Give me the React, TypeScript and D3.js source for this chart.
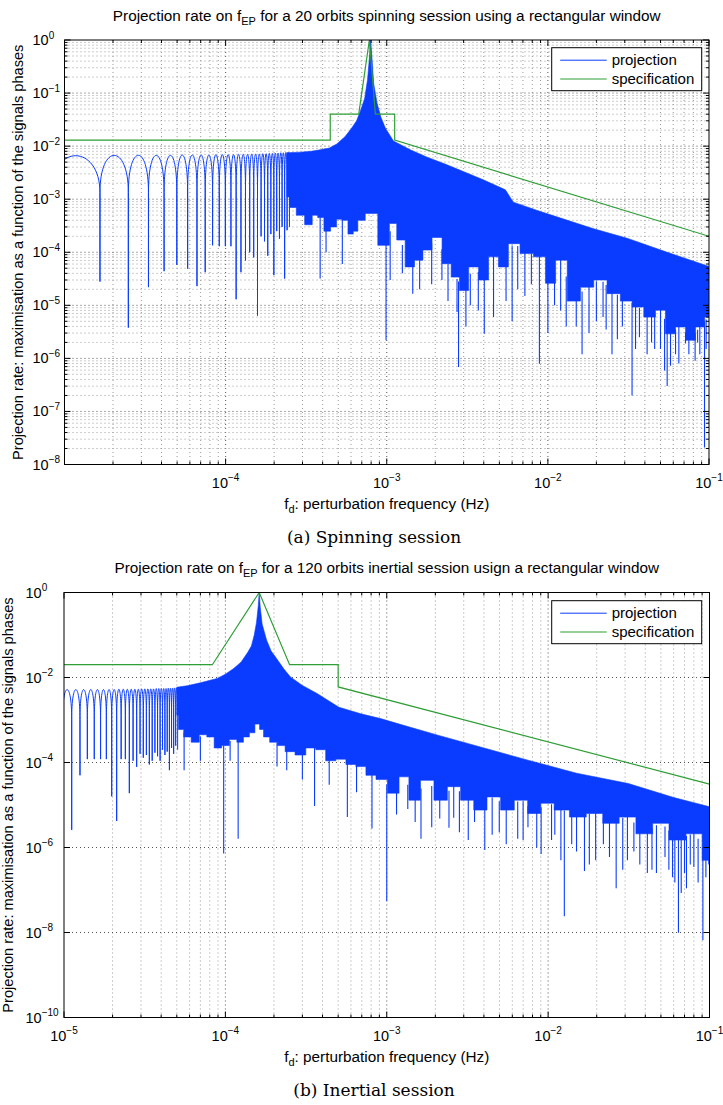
import React from 'react';
import * as d3 from 'd3';

// ---------- spinning session (20 orbits) ----------
// individual sinc lobes at low frequency: dip frequencies, dip depths, lobe tops
const spinDipF = [8.3e-6, 1.66e-5, 2.49e-5, 3.32e-5, 4.15e-5, 4.98e-5, 5.81e-5, 6.64e-5, 7.47e-5, 8.3e-5, 9.13e-5, 9.96e-5, 1.079e-4, 1.162e-4, 1.245e-4, 1.328e-4, 1.411e-4, 1.494e-4, 1.577e-4, 1.66e-4, 1.743e-4, 1.826e-4, 1.909e-4, 1.992e-4, 2.075e-4, 2.158e-4, 2.241e-4, 2.324e-4, 2.407e-4, 2.49e-4];
const spinDipV = [3e-5, 2.8e-5, 3.8e-6, 2.2e-5, 4.4e-5, 5.8e-5, 4.9e-5, 2.3e-5, 4.2e-5, 1.35e-4, 1.3e-4, 1.3e-4, 1.3e-4, 1.3e-5, 4.2e-5, 7e-5, 1e-4, 8e-5, 6.4e-6, 2e-4, 1.6e-4, 8.6e-5, 2.2e-4, 3.7e-5, 2.5e-4, 1.8e-4, 3e-4, 3.2e-5, 2.6e-4, 3e-4];
const spinLobeTop = [6.6e-3, 6.7e-3, 6.7e-3, 6.7e-3, 6.7e-3, 6.8e-3, 6.8e-3, 6.8e-3, 6.8e-3, 6.9e-3, 6.9e-3, 6.9e-3, 6.9e-3, 7.0e-3, 7.0e-3, 7.0e-3, 7.1e-3, 7.1e-3, 7.1e-3, 7.2e-3, 7.2e-3, 7.3e-3, 7.3e-3, 7.4e-3, 7.4e-3, 7.5e-3, 7.5e-3, 7.6e-3, 7.6e-3];
// dense part: upper envelope and ragged floor
const spinEnvF = [2.4e-4, 2.9e-4, 3.4e-4, 3.86e-4, 4.4e-4, 4.9e-4, 5.5e-4, 6.0e-4, 6.5e-4, 6.9e-4, 7.3e-4, 7.6e-4, 7.8e-4, 7.95e-4, 8.1e-4, 8.3e-4, 8.7e-4, 9.2e-4, 9.8e-4, 1.1e-3, 1.4e-3, 1.78e-3, 2.3e-3, 2.86e-3, 4e-3, 5.45e-3, 6.1e-3, 8.5e-3, 1.2e-2, 1.9e-2, 3.1e-2, 5.5e-2, 0.1];
const spinEnvV = [7.5e-3, 7.7e-3, 8.0e-3, 8.5e-3, 9.2e-3, 1.1e-2, 1.5e-2, 2.1e-2, 3.0e-2, 4.8e-2, 8e-2, 0.18, 0.45, 1.0, 0.45, 0.15, 0.065, 0.035, 0.022, 0.0125, 8.5e-3, 6.2e-3, 4.6e-3, 3.5e-3, 2.3e-3, 1.5e-3, 8.8e-4, 6.2e-4, 4.4e-4, 2.8e-4, 1.84e-4, 1.0e-4, 5.4e-5];
const spinFloorF = [2.4e-4, 2.6e-4, 2.9e-4, 3.3e-4, 3.6e-4, 3.86e-4, 4.3e-4, 4.67e-4, 5.1e-4, 5.5e-4, 6e-4, 6.4e-4, 6.84e-4, 7.9e-4, 9.8e-4, 1.1e-3, 1.21e-3, 1.4e-3, 1.58e-3, 1.78e-3, 2.05e-3, 2.37e-3, 2.66e-3, 3.0e-3, 3.46e-3, 3.99e-3, 4.6e-3, 5.3e-3, 6.1e-3, 7.4e-3, 8.98e-3, 1.04e-2, 1.2e-2, 1.45e-2, 1.75e-2, 2.12e-2, 2.56e-2, 3.1e-2, 3.58e-2, 4.33e-2, 5.0e-2, 5.77e-2, 6.65e-2, 7.7e-2, 8.85e-2, 0.1];
const spinFloorV = [1.1e-3, 7e-4, 5e-4, 3.3e-4, 5e-4, 4.5e-4, 2.5e-4, 3e-4, 4.2e-4, 4e-4, 2.2e-4, 2.5e-4, 4e-4, 5.4e-4, 1.35e-4, 3.5e-4, 1.7e-4, 5.3e-5, 7.1e-5, 1.1e-4, 1.9e-4, 6.1e-5, 3.4e-5, 1.9e-5, 5.3e-5, 3e-5, 8.2e-5, 5.3e-5, 1.45e-4, 9.5e-5, 8.2e-5, 2.6e-5, 7.1e-5, 1.2e-5, 2.2e-5, 3e-5, 1.66e-5, 1.2e-5, 9.3e-6, 6e-6, 8.1e-6, 2.9e-6, 3.9e-6, 2.2e-6, 3.9e-6, 6e-6];
// deep notches inside the dense part
const spinSpikeF = [3.86e-4, 4.2e-4, 5.3e-4, 9.9e-4, 1.05e-3, 1.25e-3, 1.45e-3, 1.6e-3, 1.9e-3, 2.2e-3, 2.4e-3, 2.73e-3, 2.79e-3, 3.1e-3, 3.3e-3, 3.7e-3, 4.03e-3, 4.6e-3, 5.5e-3, 6.0e-3, 6.5e-3, 7.2e-3, 7.9e-3, 8.86e-3, 1.0e-2, 1.1e-2, 1.2e-2, 1.3e-2, 1.5e-2, 1.63e-2, 1.8e-2, 2.0e-2, 2.2e-2, 2.3e-2, 2.5e-2, 2.7e-2, 2.9e-2, 3.33e-2, 3.5e-2, 3.7e-2, 4.13e-2, 4.4e-2, 4.6e-2, 5.0e-2, 5.3e-2, 5.5e-2, 5.77e-2, 6.2e-2, 6.5e-2, 7.15e-2, 7.5e-2, 8.2e-2, 8.5e-2, 8.77e-2, 9.38e-2, 9.6e-2, 9.9e-2];
const spinSpikeV = [3.2e-5, 1e-4, 6e-5, 2.2e-6, 3e-5, 4e-5, 1.66e-5, 2e-5, 2.5e-5, 3e-5, 1.2e-5, 7.5e-6, 6.9e-7, 4e-6, 1e-5, 8e-6, 2.9e-6, 6e-6, 1.2e-5, 5e-6, 2e-5, 1.5e-5, 2.5e-5, 7.9e-7, 3e-6, 1e-5, 8e-6, 4e-6, 4e-6, 1.2e-6, 3e-6, 5e-6, 6e-6, 3.5e-6, 1.2e-6, 2.3e-6, 4e-6, 2e-7, 1.5e-6, 2.5e-6, 1.2e-6, 2e-6, 1.5e-6, 1.5e-6, 5.9e-7, 3e-7, 7.3e-7, 1.2e-6, 8e-7, 1.9e-6, 1.2e-6, 9e-7, 2e-6, 1.2e-6, 2.1e-8, 1.5e-6, 6e-6];
const spinSpecF = [1e-5, 4.46e-4, 4.46e-4, 6.7e-4, 7.8e-4, 8.5e-4, 1.12e-3, 1.12e-3, 0.1];
const spinSpecV = [0.013, 0.013, 0.04, 0.04, 1, 0.04, 0.04, 0.013, 2e-4];

// ---------- inertial session (120 orbits) ----------
const inerDipF = [9.8e-6, 1.116e-5, 1.256e-5, 1.395e-5, 1.54e-5, 1.685e-5, 1.83e-5, 1.975e-5, 2.12e-5, 2.26e-5, 2.4e-5, 2.54e-5, 2.68e-5, 2.82e-5, 2.96e-5, 3.1e-5, 3.24e-5, 3.38e-5, 3.52e-5, 3.66e-5, 3.8e-5, 3.94e-5, 4.08e-5, 4.22e-5, 4.36e-5, 4.5e-5, 4.64e-5, 4.78e-5, 4.92e-5, 5.06e-5];
const inerDipV = [3e-5, 2.6e-6, 5e-5, 1.2e-4, 1.2e-4, 1.2e-4, 1.2e-4, 1.6e-5, 4.2e-6, 1.2e-4, 1.2e-4, 1.9e-5, 1.1e-4, 7.9e-5, 1.6e-4, 1.3e-4, 1.5e-4, 9e-5, 1.1e-4, 1.7e-4, 1.4e-4, 1.1e-4, 2e-4, 1.5e-4, 1.8e-4, 6.6e-5, 2.2e-4, 1.6e-4, 2.5e-4, 2e-4];
const inerLobeTop = [5.2e-3, 5.2e-3, 5.2e-3, 5.2e-3, 5.2e-3, 5.2e-3, 5.2e-3, 5.2e-3, 5.3e-3, 5.3e-3, 5.3e-3, 5.3e-3, 5.3e-3, 5.3e-3, 5.4e-3, 5.4e-3, 5.4e-3, 5.4e-3, 5.4e-3, 5.5e-3, 5.5e-3, 5.5e-3, 5.5e-3, 5.5e-3, 5.6e-3, 5.6e-3, 5.6e-3, 5.7e-3, 5.7e-3];
const inerEnvF = [5.0e-5, 5.8e-5, 7e-5, 8.9e-5, 1.0e-4, 1.12e-4, 1.25e-4, 1.37e-4, 1.45e-4, 1.51e-4, 1.56e-4, 1.6e-4, 1.62e-4, 1.645e-4, 1.69e-4, 1.8e-4, 1.92e-4, 2.05e-4, 2.3e-4, 2.53e-4, 3.0e-4, 3.7e-4, 5.05e-4, 6.9e-4, 9.15e-4, 1.3e-3, 2.07e-3, 4e-3, 7.4e-3, 1.5e-2, 3.14e-2, 6e-2, 0.1];
const inerEnvV = [5.9e-3, 6.4e-3, 7.5e-3, 9.5e-3, 1.2e-2, 1.6e-2, 2.3e-2, 3.8e-2, 5.5e-2, 0.1, 0.2, 0.5, 1.0, 0.45, 0.18, 0.076, 0.042, 0.03, 0.016, 0.0103, 6.5e-3, 4.2e-3, 2.0e-3, 1.4e-3, 1.08e-3, 7.3e-4, 4.4e-4, 2.2e-4, 1.15e-4, 5.6e-5, 3.2e-5, 1.5e-5, 9.1e-6];
const inerFloorF = [5.0e-5, 5.25e-5, 5.8e-5, 6.5e-5, 7.3e-5, 8.07e-5, 9e-5, 1.0e-4, 1.12e-4, 1.24e-4, 1.35e-4, 1.47e-4, 1.58e-4, 1.68e-4, 1.77e-4, 2.0e-4, 2.2e-4, 2.5e-4, 2.92e-4, 3.4e-4, 3.89e-4, 4.5e-4, 5.2e-4, 6e-4, 6.9e-4, 8e-4, 9.2e-4, 1.11e-3, 1.28e-3, 1.47e-3, 1.78e-3, 2.16e-3, 2.61e-3, 3.15e-3, 3.8e-3, 4.6e-3, 5.6e-3, 6.8e-3, 8.2e-3, 9.9e-3, 1.2e-2, 1.53e-2, 1.94e-2, 2.45e-2, 3.1e-2, 3.95e-2, 5.0e-2, 6.3e-2, 8.1e-2, 0.1];
const inerFloorV = [1.3e-3, 6e-4, 4e-4, 3e-4, 4.5e-4, 4e-4, 2.2e-4, 2.5e-4, 3.5e-4, 3e-4, 4e-4, 5e-4, 8e-4, 6e-4, 4e-4, 3e-4, 2.5e-4, 1.8e-4, 1.5e-4, 2.2e-4, 2e-4, 1.1e-4, 1.2e-4, 9e-5, 8e-5, 5e-5, 4e-5, 1.9e-5, 4.6e-5, 1.3e-5, 3.8e-5, 1.3e-5, 2.7e-5, 1.3e-5, 7.6e-6, 1.55e-5, 7.6e-6, 1.3e-5, 6.3e-6, 1.1e-5, 7.6e-6, 5.2e-6, 6.3e-6, 3.7e-6, 5.2e-6, 2.1e-6, 3.7e-6, 1.5e-6, 2.1e-6, 5e-7];
const inerSpikeF = [5.55e-5, 7.0e-5, 9.76e-5, 1.07e-4, 1.2e-4, 2.09e-4, 2.4e-4, 3e-4, 3.57e-4, 4.4e-4, 5.7e-4, 6.5e-4, 8.1e-4, 1.0e-3, 1.15e-3, 1.35e-3, 1.5e-3, 1.63e-3, 1.9e-3, 2.13e-3, 2.43e-3, 2.6e-3, 2.82e-3, 3.2e-3, 3.5e-3, 4.05e-3, 4.5e-3, 4.98e-3, 5.5e-3, 6.48e-3, 7e-3, 7.5e-3, 8.5e-3, 9.05e-3, 1.05e-2, 1.1e-2, 1.2e-2, 1.26e-2, 1.4e-2, 1.5e-2, 1.68e-2, 1.8e-2, 1.97e-2, 2.2e-2, 2.4e-2, 2.64e-2, 2.9e-2, 3.1e-2, 3.4e-2, 3.7e-2, 4.12e-2, 4.4e-2, 4.69e-2, 5.3e-2, 5.6e-2, 5.9e-2, 6.1e-2, 6.42e-2, 6.68e-2, 7.0e-2, 7.2e-2, 7.6e-2, 8.0e-2, 8.5e-2, 9.1e-2, 9.5e-2, 9.9e-2];
const inerSpikeV = [6.6e-5, 1.1e-4, 7.2e-7, 1.1e-4, 1.6e-6, 8e-5, 6.6e-5, 4e-5, 9.5e-6, 3e-5, 5.2e-6, 2e-5, 2.8e-6, 5.5e-8, 6e-6, 8e-6, 4e-6, 1.6e-6, 3e-6, 4.8e-6, 2.9e-6, 5e-6, 2.3e-6, 1.5e-6, 4e-6, 8.7e-7, 2e-6, 2.3e-6, 1.2e-6, 1.6e-6, 1.5e-6, 3e-6, 1e-6, 7e-7, 1.5e-6, 2e-6, 5e-7, 2.4e-8, 1.2e-6, 8e-7, 2.8e-7, 4e-7, 5e-7, 1.2e-6, 6e-7, 1.1e-7, 3e-7, 5e-7, 8e-7, 4e-7, 2.5e-7, 3e-7, 2.5e-7, 6e-7, 3e-7, 2e-7, 1.5e-7, 9.8e-9, 8.5e-8, 2.5e-7, 1.1e-7, 4e-7, 3.5e-7, 1.5e-7, 6.6e-9, 2e-7, 4e-7];
const inerSpecF = [1e-5, 8.3e-5, 1.62e-4, 2.5e-4, 5.0e-4, 5.0e-4, 0.1];
const inerSpecV = [0.02, 0.02, 1, 0.02, 0.02, 6e-3, 3.1e-5];

const seriesNames = ['projection', 'specification'];

const BLUE = '#0a3cff';
const GREEN = '#2f9e36';
const SANS = '"Liberation Sans", Arial, Helvetica, sans-serif';
const MINUS = '\u2212';

type Box = { left: number; right: number; top: number; bottom: number };

type PanelProps = {
  id: string;
  box: Box;
  xExp: [number, number];
  yExp: [number, number];
  xLabelExps: number[];
  yLabelExps: number[];
  yMinor: boolean;
  yTickLabelX: number;
  yTitleX: number;
  titleY: number;
  titleRest: string;
  dipF: number[];
  dipV: number[];
  lobeTop: number[];
  envF: number[];
  envV: number[];
  floorF: number[];
  floorV: number[];
  spikeF: number[];
  spikeV: number[];
  specF: number[];
  specV: number[];
  legendX: number;
  legendY: number;
  caption: string;
  captionY: number;
  xTitleY: number;
};

function Pow({ x, y, exp, anchor }: { x: number; y: number; exp: number; anchor: string }) {
  const e = exp < 0 ? MINUS + Math.abs(exp) : String(exp);
  return (
    <text x={x} y={y} textAnchor={anchor} fontFamily={SANS} fontSize={14.5} fill="#000">
      10<tspan dy={-6.5} fontSize={10}>{e}</tspan>
    </text>
  );
}

function Panel(p: PanelProps) {
  const { box } = p;
  const x = d3.scaleLog().domain([10 ** p.xExp[0], 10 ** p.xExp[1]]).range([box.left, box.right]);
  const y = d3.scaleLog().domain([10 ** p.yExp[0], 10 ** p.yExp[1]]).range([box.bottom, box.top]);
  const clipId = `clip-${p.id}`;

  const xMajor: number[] = [];
  const xMinor: number[] = [];
  for (let e = p.xExp[0]; e < p.xExp[1]; e++) {
    xMajor.push(10 ** e);
    for (let k = 2; k <= 9; k++) xMinor.push(k * 10 ** e);
  }
  xMajor.push(10 ** p.xExp[1]);

  const yMajor = p.yLabelExps.map((e) => 10 ** e);
  const yMinor: number[] = [];
  if (p.yMinor) {
    for (let e = p.yExp[0]; e < p.yExp[1]; e++) {
      for (let k = 2; k <= 9; k++) yMinor.push(k * 10 ** e);
    }
  }

  // sinc lobes: arch between two nulls, then the null drops as a thin notch
  const lobes = d3.path();
  p.lobeTop.forEach((top, i) => {
    const xa = x(p.dipF[i]);
    const xb = x(p.dipF[i + 1]);
    const yb = y(top * 0.2);
    const yp = y(top);
    const yc = yb + (yp - yb) / 0.75;
    if (i === 0) lobes.moveTo(xa, y(p.dipV[i]));
    lobes.lineTo(xa, yb);
    lobes.bezierCurveTo(xa, yc, xb, yc, xb, yb);
    lobes.lineTo(xb, y(p.dipV[i + 1]));
  });

  // dense band: straight upper envelope, stepped (comb-like) floor
  const env = p.envF.map((f, i) => [x(f), y(p.envV[i])] as [number, number]);
  const flo = p.floorF.map((f, i) => [x(f), y(p.floorV[i])] as [number, number]).reverse();
  const envD = d3.line()(env) || '';
  const floD = d3.line().curve(d3.curveStep)(flo) || '';
  const denseD = envD + 'L' + floD.slice(1) + 'Z';
  const floorY = d3
    .scaleLog()
    .domain(p.floorF)
    .range(p.floorV.map((v) => y(v)))
    .clamp(true);

  const specLine = d3
    .line<number>()
    .x((f) => x(f))
    .y((_, i) => y(p.specV[i]));

  const inX = (v: number) => x(v) > box.left + 0.5 && x(v) < box.right - 0.5;
  const inY = (v: number) => y(v) > box.top + 0.5 && y(v) < box.bottom - 0.5;
  const midX = (box.left + box.right) / 2;
  const midY = (box.top + box.bottom) / 2;
  const lx = p.legendX;
  const ly = p.legendY;

  return (
    <g>
      <defs>
        <clipPath id={clipId}>
          <rect x={box.left} y={box.top} width={box.right - box.left} height={box.bottom - box.top} />
        </clipPath>
      </defs>

      {/* grid */}
      <g fill="none" strokeWidth={1} strokeDasharray="1,3">
        {xMinor.filter(inX).map((v) => (
          <line key={`gx${v}`} x1={x(v)} x2={x(v)} y1={box.top} y2={box.bottom} stroke="#9a9a9a" />
        ))}
        {xMajor.filter(inX).map((v) => (
          <line key={`gX${v}`} x1={x(v)} x2={x(v)} y1={box.top} y2={box.bottom} stroke="#555" />
        ))}
        {yMinor.filter(inY).map((v) => (
          <line key={`gy${v}`} x1={box.left} x2={box.right} y1={y(v)} y2={y(v)} stroke="#9a9a9a" />
        ))}
        {yMajor.filter(inY).map((v) => (
          <line key={`gY${v}`} x1={box.left} x2={box.right} y1={y(v)} y2={y(v)} stroke="#555" />
        ))}
      </g>

      {/* projection */}
      <g clipPath={`url(#${clipId})`}>
        <path d={lobes.toString()} fill="none" stroke={BLUE} strokeWidth={1} />
        <path d={denseD} fill={BLUE} stroke={BLUE} strokeWidth={0.6} strokeLinejoin="round" />
        {p.spikeF.map((f, i) => (
          <line
            key={`s${i}`}
            x1={x(f)}
            x2={x(f)}
            y1={floorY(f) - 1}
            y2={y(p.spikeV[i])}
            stroke={BLUE}
            strokeWidth={1.1}
          />
        ))}
        <path d={specLine(p.specF) || ''} fill="none" stroke={GREEN} strokeWidth={1.2} />
      </g>

      {/* axes box and ticks */}
      <rect
        x={box.left}
        y={box.top}
        width={box.right - box.left}
        height={box.bottom - box.top}
        fill="none"
        stroke="#000"
        strokeWidth={1}
      />
      <g stroke="#000" strokeWidth={1}>
        {xMajor.map((v) => (
          <g key={`tX${v}`}>
            <line x1={x(v)} x2={x(v)} y1={box.bottom} y2={box.bottom - 6} />
            <line x1={x(v)} x2={x(v)} y1={box.top} y2={box.top + 6} />
          </g>
        ))}
        {xMinor.map((v) => (
          <g key={`tx${v}`}>
            <line x1={x(v)} x2={x(v)} y1={box.bottom} y2={box.bottom - 3} />
            <line x1={x(v)} x2={x(v)} y1={box.top} y2={box.top + 3} />
          </g>
        ))}
        {yMajor.map((v) => (
          <g key={`tY${v}`}>
            <line x1={box.left} x2={box.left + 6} y1={y(v)} y2={y(v)} />
            <line x1={box.right} x2={box.right - 6} y1={y(v)} y2={y(v)} />
          </g>
        ))}
        {yMinor.map((v) => (
          <g key={`ty${v}`}>
            <line x1={box.left} x2={box.left + 3} y1={y(v)} y2={y(v)} />
            <line x1={box.right} x2={box.right - 3} y1={y(v)} y2={y(v)} />
          </g>
        ))}
      </g>

      {/* tick labels */}
      {p.xLabelExps.map((e) => (
        <Pow key={`lx${e}`} x={x(10 ** e)} y={box.bottom + 23} exp={e} anchor="middle" />
      ))}
      {p.yLabelExps.map((e) => (
        <Pow key={`ly${e}`} x={p.yTickLabelX} y={y(10 ** e) + 5} exp={e} anchor="start" />
      ))}

      {/* title and axis titles */}
      <text x={midX} y={p.titleY} textAnchor="middle" fontFamily={SANS} fontSize={15.3}>
        Projection rate on f<tspan dy={4} fontSize={11}>EP</tspan>
        <tspan dy={-4}>{p.titleRest}</tspan>
      </text>
      <text x={midX} y={p.xTitleY} textAnchor="middle" fontFamily={SANS} fontSize={15.3}>
        f<tspan dy={4} fontSize={11}>d</tspan>
        <tspan dy={-4}>: perturbation frequency (Hz)</tspan>
      </text>
      <text
        transform={`translate(${p.yTitleX},${midY}) rotate(-90)`}
        textAnchor="middle"
        fontFamily={SANS}
        fontSize={14.6}
      >
        Projection rate: maximisation as a function of the signals phases
      </text>

      {/* legend */}
      <rect x={lx} y={ly} width={150} height={43} fill="#fff" stroke="#000" strokeWidth={1} />
      <line x1={lx + 8.5} x2={lx + 55} y1={ly + 12.5} y2={ly + 12.5} stroke={BLUE} strokeWidth={1} />
      <line x1={lx + 8.5} x2={lx + 55} y1={ly + 31.3} y2={ly + 31.3} stroke={GREEN} strokeWidth={1.2} />
      <text x={lx + 60} y={ly + 17.5} fontFamily={SANS} fontSize={15}>
        {seriesNames[0]}
      </text>
      <text x={lx + 60} y={ly + 36} fontFamily={SANS} fontSize={15}>
        {seriesNames[1]}
      </text>

      {/* sub-figure caption */}
      <text x={374} y={p.captionY} textAnchor="middle" fontFamily='"DejaVu Serif", serif' fontSize={17}>
        {p.caption}
      </text>
    </g>
  );
}

export default function App() {
  return (
    <svg
      width={723}
      height={1105}
      style={{ position: 'absolute', left: 0, top: 0, background: '#fff' }}
    >
      <rect width={723} height={1105} fill="#fff" />
      <Panel
        id="spin"
        box={{ left: 64.5, right: 709, top: 40, bottom: 464.5 }}
        xExp={[-5, -1]}
        yExp={[-8, 0]}
        xLabelExps={[-4, -3, -2, -1]}
        yLabelExps={[0, -1, -2, -3, -4, -5, -6, -7, -8]}
        yMinor={true}
        yTickLabelX={32.5}
        yTitleX={22.5}
        titleY={21}
        titleRest=" for a 20 orbits spinning session using a rectangular window"
        dipF={spinDipF}
        dipV={spinDipV}
        lobeTop={spinLobeTop}
        envF={spinEnvF}
        envV={spinEnvV}
        floorF={spinFloorF}
        floorV={spinFloorV}
        spikeF={spinSpikeF}
        spikeV={spinSpikeV}
        specF={spinSpecF}
        specV={spinSpecV}
        legendX={551.7}
        legendY={47.7}
        caption="(a)  Spinning session"
        captionY={543}
        xTitleY={509}
      />
      <Panel
        id="iner"
        box={{ left: 64, right: 709.5, top: 592.5, bottom: 1017.5 }}
        xExp={[-5, -1]}
        yExp={[-10, 0]}
        xLabelExps={[-5, -4, -3, -2, -1]}
        yLabelExps={[0, -2, -4, -6, -8, -10]}
        yMinor={false}
        yTickLabelX={25.5}
        yTitleX={13}
        titleY={573}
        titleRest=" for a 120 orbits inertial session usign a rectangular window"
        dipF={inerDipF}
        dipV={inerDipV}
        lobeTop={inerLobeTop}
        envF={inerEnvF}
        envV={inerEnvV}
        floorF={inerFloorF}
        floorV={inerFloorV}
        spikeF={inerSpikeF}
        spikeV={inerSpikeV}
        specF={inerSpecF}
        specV={inerSpecV}
        legendX={551.7}
        legendY={600.7}
        caption="(b)  Inertial session"
        captionY={1096}
        xTitleY={1062}
      />
    </svg>
  );
}
